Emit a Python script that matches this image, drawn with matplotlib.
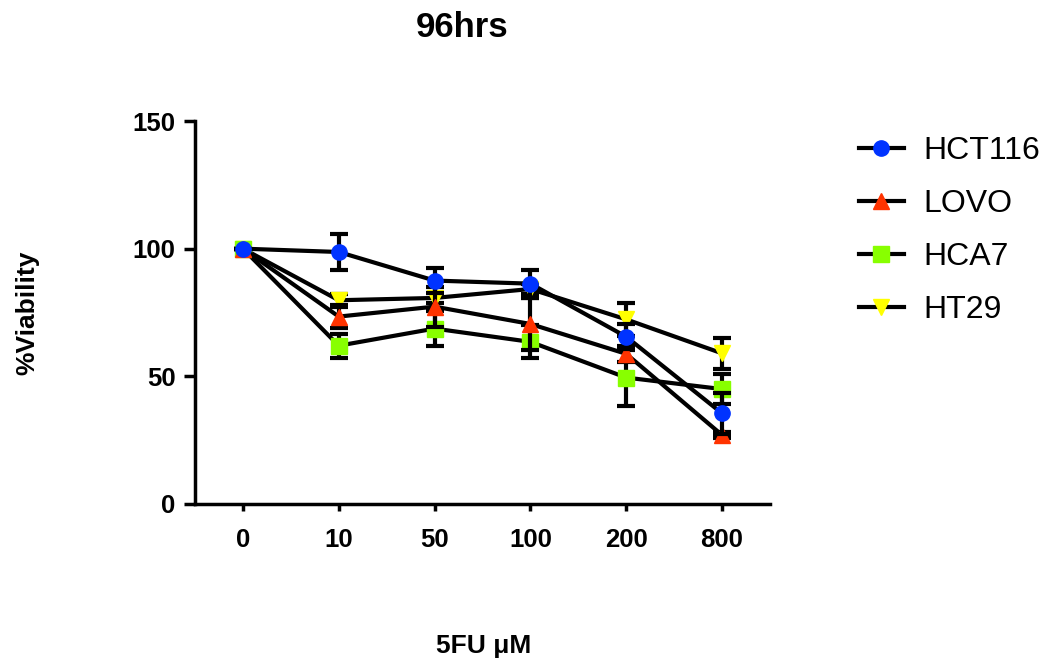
import numpy as np
import matplotlib
matplotlib.use("Agg")
import matplotlib.pyplot as plt
from matplotlib import font_manager as fm
from matplotlib.lines import Line2D

# regular-width Liberation Sans files (not the Narrow ones)
reg = [f.fname for f in fm.fontManager.ttflist
       if f.name == 'Liberation Sans' and 'Narrow' not in f.fname]
bold_file = [p for p in reg if p.endswith('LiberationSans-Bold.ttf')]
reg_file = [p for p in reg if p.endswith('LiberationSans-Regular.ttf')]
boldfp = fm.FontProperties(fname=bold_file[0]) if bold_file else fm.FontProperties(family='Liberation Sans', weight='bold')
regfp = fm.FontProperties(fname=reg_file[0]) if reg_file else fm.FontProperties(family='Liberation Sans')

doses = ['0', '10', '50', '100', '200', '800']

hct116 = [100, 98.7, 87.5, 86.3, 65.5, 35.5]
hct116_sd = [0, 7, 5, 5.5, 4.8, 8]
lovo = [100, 73.4, 77.3, 70.5, 58.8, 27]
lovo_sd = [0, 4.5, 7.8, 10, 3, 1]
hca7 = [100, 62, 68.7, 63.5, 49.5, 45]
hca7_sd = [0, 4.7, 7, 6.5, 11, 6]
ht29 = [100, 79.8, 80.7, 84.2, 72.3, 59]
ht29_sd = [0, 2.5, 2, 2, 6.4, 6]

series = [
    ('HCT116', hct116, hct116_sd, 'o', '#0033ff'),
    ('LOVO', lovo, lovo_sd, '^', '#ff3300'),
    ('HCA7', hca7, hca7_sd, 's', '#88ff00'),
    ('HT29', ht29, ht29_sd, 'v', '#ffff00'),
]

fig = plt.figure(figsize=(10.48, 6.62), dpi=100)
ax = fig.add_axes([0.1861, 0.2387, 0.5486, 0.5785])

x = np.arange(len(doses))
handles = []
for i, (name, vals, sd, mk, col) in enumerate(series):
    ax.errorbar(x, vals, yerr=sd, color='black', lw=3, elinewidth=3,
                capsize=6.5, capthick=3, marker=mk, markersize=11,
                markerfacecolor=col, markeredgecolor=col, zorder=10 - i)
    handles.append(Line2D([], [], color='black', lw=3, marker=mk, markersize=11,
                          markerfacecolor=col, markeredgecolor=col, label=name))

ax.set_xlim(-0.5, 5.5)
ax.set_ylim(0, 150)
ax.set_xticks(x)
ax.set_xticklabels(doses)
ax.set_yticks([0, 50, 100, 150])
for s in ['top', 'right']:
    ax.spines[s].set_visible(False)
for s in ['left', 'bottom']:
    ax.spines[s].set_linewidth(2.5)
ax.tick_params(axis='y', length=8, width=2.5, pad=6)
ax.tick_params(axis='x', length=5, width=2.5, pad=12)
for lab in ax.get_xticklabels() + ax.get_yticklabels():
    lab.set_fontproperties(boldfp)
    lab.set_fontsize(18.5)

ax.set_ylabel('%Viability', fontproperties=boldfp, fontsize=19, labelpad=0)
ax.yaxis.set_label_coords(-0.27, 0.5)
fig.text(0.461, 0.013, '5FU μM', fontproperties=boldfp, fontsize=19, ha='center')
fig.text(0.441, 0.958, '96hrs', fontproperties=boldfp, fontsize=25, ha='center', va='center')

leg_fp = regfp.copy()
leg_fp.set_size(23)
leg = ax.legend(handles=handles, loc='upper left', bbox_to_anchor=(1.105, 1.035),
                frameon=False, prop=leg_fp, handlelength=1.4,
                labelspacing=0.72, handletextpad=0.6)

fig.savefig('out.png', dpi=100)
